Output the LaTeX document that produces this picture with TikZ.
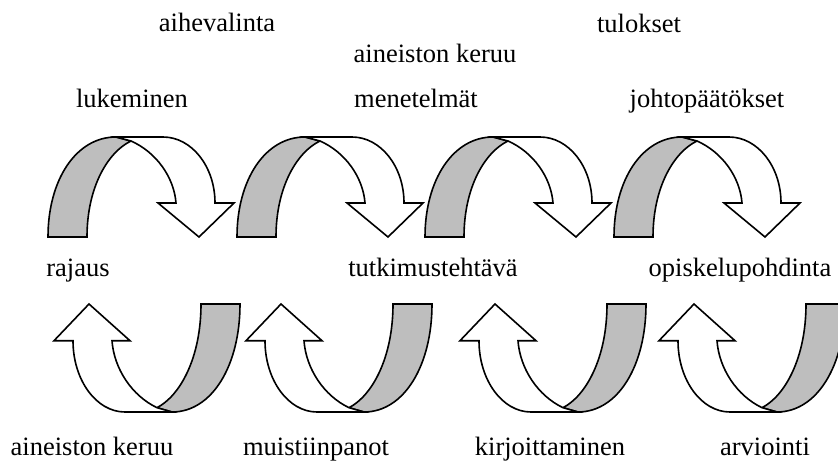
\documentclass[tikz,border=0pt]{standalone}
\usepackage{fontspec}
\setmainfont{Liberation Serif}
\definecolor{bandgrey}{RGB}{190,190,190}
\tikzset{
  x=1pt,y=1pt,
  face/.style={draw=black,line width=1.6pt,line join=miter,miter limit=10},
  greyface/.style={face,fill=bandgrey},
  whiteface/.style={face,fill=white},
  lbl/.style={anchor=base,inner sep=0pt,font=\fontsize{26.5}{30}\selectfont},
  curvarrow/.pic={
    \filldraw[greyface] (0,0) .. controls (0,57) and (28,100) .. (68,100)
      -- (83,96) .. controls (60,85) and (39,50) .. (39,0) -- cycle;
    \filldraw[whiteface] (68,100) -- (115,100)
      .. controls (143.7,100) and (167,70.4) .. (167,34)
      -- (186,34) -- (151,0) -- (110,34) -- (128,34)
      .. controls (126,60) and (108,85) .. (83,96) -- cycle;
  }
}
\begin{document}
\begin{tikzpicture}
\useasboundingbox (0,0) rectangle (838,461);
\begin{scope}
\clip (0,0) rectangle (838,461);
% top arrows
\pic at (48,224) {curvarrow};
\pic at (237,224) {curvarrow};
\pic at (425,224) {curvarrow};
\pic at (614,224) {curvarrow};
% bottom arrows (rotated)
\pic[rotate=180,yscale=1.08] at (240,157) {curvarrow};
\pic[rotate=180,yscale=1.08] at (432,157) {curvarrow};
\pic[rotate=180,yscale=1.08] at (646,157) {curvarrow};
\pic[rotate=180,yscale=1.08] at (845,157) {curvarrow};
\end{scope}
% labels
\node[lbl] (aihe) at (217,429) {aihevalinta};
\node[lbl] (keruu1) at (435,398) {aineiston keruu};
\node[lbl] (tulos) at (639,428) {tulokset};
\node[lbl] (luke) at (132,353) {lukeminen};
\node[lbl] (mene) at (416,353) {menetelmät};
\node[lbl] (johto) at (707,353) {johtopäätökset};
\node[lbl] (rajaus) at (78,184) {rajaus};
\node[lbl] (tutk) at (433,184) {tutkimustehtävä};
\node[lbl] (opisk) at (740,184) {opiskelupohdinta};
\node[lbl] (keruu2) at (92,6) {aineiston keruu};
\node[lbl] (muist) at (316,6) {muistiinpanot};
\node[lbl] (kirj) at (550,6) {kirjoittaminen};
\node[lbl] (arv) at (765,6) {arviointi};
\end{tikzpicture}
\end{document}
